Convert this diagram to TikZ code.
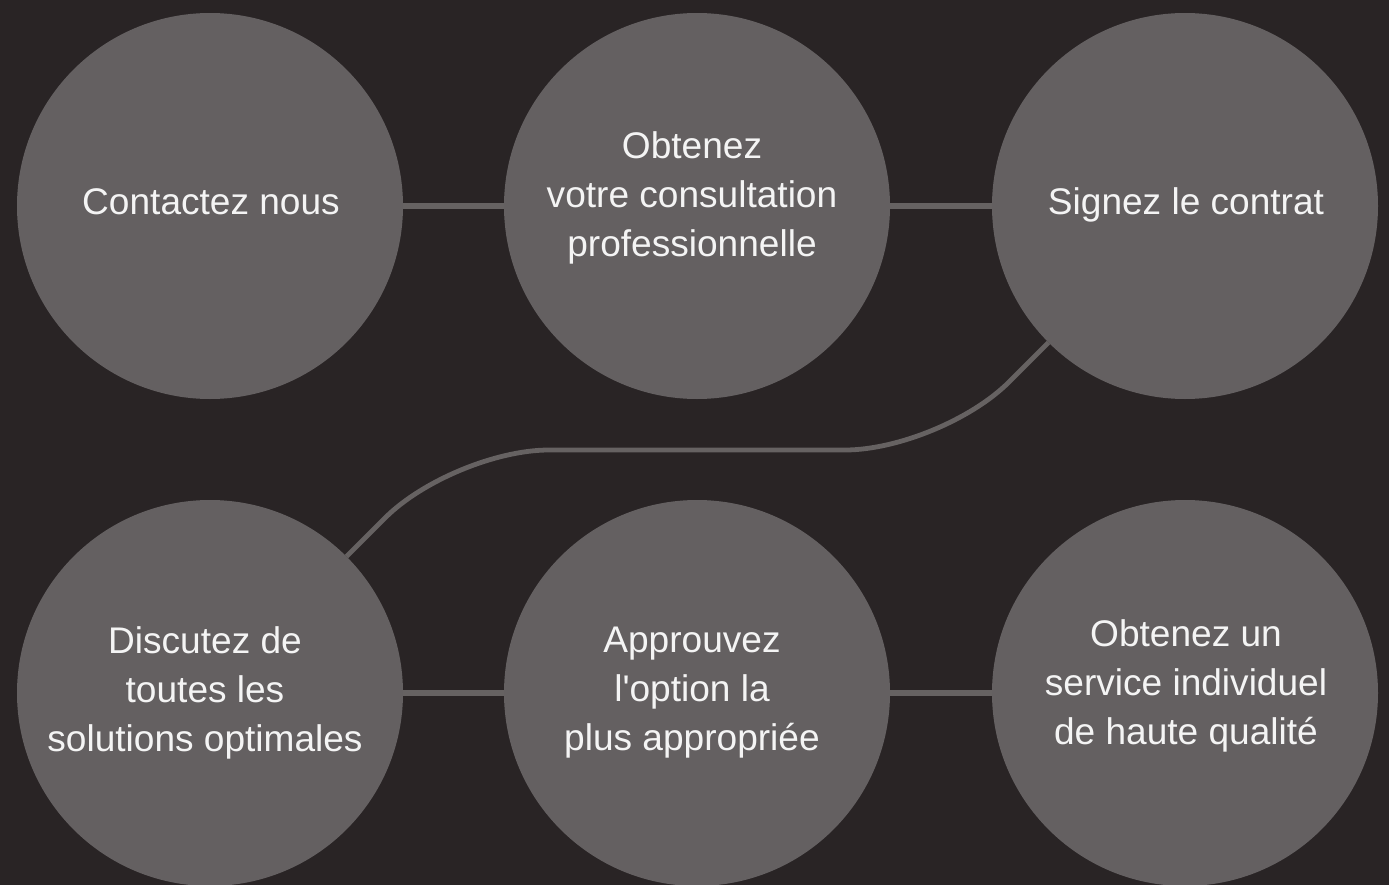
\documentclass[tikz,border=0pt]{standalone}
\usepackage{fontspec}
\setmainfont{Liberation Sans}
\definecolor{bg}{HTML}{292425}
\definecolor{disc}{HTML}{646061}
\definecolor{link}{HTML}{666262}
\definecolor{ink}{HTML}{F4F4F4}
\begin{document}
\begin{tikzpicture}[x=0.75pt,y=-0.75pt,
  disc/.style={circle,fill=disc,minimum size=289.5pt,inner sep=0pt,outer sep=0pt},
  lbl/.style={text=ink,align=center,font=\fontsize{27.8}{36.8}\selectfont,inner sep=0pt},
  straight/.style={draw=link,line width=4.8pt},
  curved/.style={draw=link,line width=3.6pt,rounded corners=72pt}]
\fill[bg] (0,0) rectangle (1389,885);
\useasboundingbox (0,0) rectangle (1389,885);
\node[disc] (c1) at (210,206) {};
\node[disc] (c2) at (697,206) {};
\node[disc] (c3) at (1185,206) {};
\node[disc] (c4) at (210,693) {};
\node[disc] (c5) at (697,693) {};
\node[disc] (c6) at (1185,693) {};
\draw[straight] (c1.east) -- (c2.west);
\draw[straight] (c2.east) -- (c3.west);
\draw[straight] (c4.east) -- (c5.west);
\draw[straight] (c5.east) -- (c6.west);
\coordinate (k1) at (453,450);
\coordinate (k2) at (941,450);
\draw[curved] (c4.45) -- (k1) -- (k2) -- (c3.225);
\node[lbl] (t1) at (211,202) {Contactez nous};
\node[lbl] (t2) at (692,198) {Obtenez\\votre consultation\\professionnelle};
\node[lbl] (t3) at (1186,205) {Signez le contrat};
\node[lbl] (t4) at (205,693) {Discutez de\\toutes les\\solutions optimales};
\node[lbl] (t5) at (692,693) {Approuvez\\l\textquotesingle option la\\plus appropriée};
\node[lbl] (t6) at (1186,686) {Obtenez un\\service individuel\\de haute qualité};
\end{tikzpicture}
\end{document}
